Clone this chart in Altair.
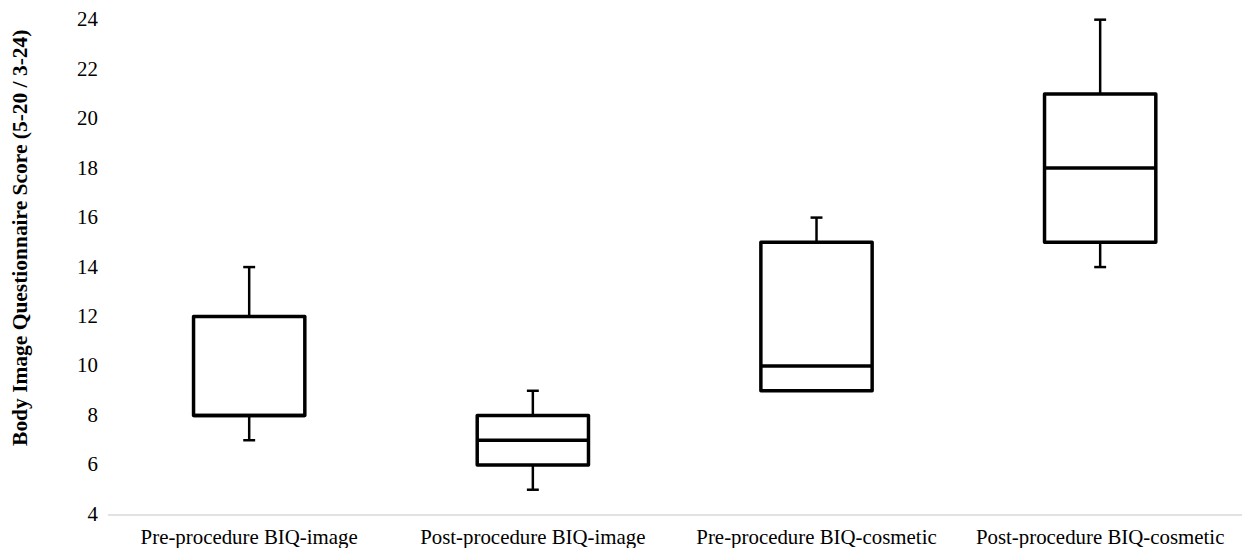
import altair as alt
import pandas as pd

categories = ["Pre-procedure BIQ-image", "Post-procedure BIQ-image",
              "Pre-procedure BIQ-cosmetic", "Post-procedure BIQ-cosmetic"]
mins = [7, 5, 9, 14]
q1s = [8, 6, 9, 15]
medians = [8, 7, 10, 18]
q3s = [12, 8, 15, 21]
maxs = [14, 9, 16, 24]
y_ticks = [4, 6, 8, 10, 12, 14, 16, 18, 20, 22, 24]

df = pd.DataFrame({"cat": categories, "lo": mins, "q1": q1s, "med": medians,
                   "q3": q3s, "hi": maxs})

FONT = "Liberation Serif"

x_axis = alt.Axis(labelAngle=0, labelPadding=12, labelLimit=0, grid=False,
                  domain=True, domainColor="#d9d9d9", domainWidth=1.5)
x = alt.X("cat:N", sort=categories, title=None,
          scale=alt.Scale(paddingInner=0, paddingOuter=0), axis=x_axis)
yscale = alt.Scale(domain=[4, 24], nice=False, zero=False)
y_axis = alt.Axis(values=y_ticks, labelPadding=10, domain=False, grid=False,
                  title="Body Image Questionnaire Score (5-20 / 3-24)",
                  titleFontWeight="bold", titleFontSize=21.6, titleX=-81, titleY=219,
                  titleBaseline="alphabetic", titleAngle=270)


def Y(field):
    return alt.Y(field, scale=yscale, axis=y_axis)


base = alt.Chart(df)

lower = base.mark_rule(color="black", strokeWidth=2.5).encode(
    x=x, y=Y("lo:Q"), y2="q1:Q")
upper = base.mark_rule(color="black", strokeWidth=2.5).encode(
    x=x, y=Y("q3:Q"), y2="hi:Q")
cap_lo = base.mark_tick(color="black", size=12, thickness=2.5, opacity=1).encode(
    x=x, y=Y("lo:Q"))
cap_hi = base.mark_tick(color="black", size=12, thickness=2.5, opacity=1).encode(
    x=x, y=Y("hi:Q"))
box = base.mark_bar(fill="white", stroke="black", strokeWidth=3.5,
                    strokeJoin="round", size=112, opacity=1).encode(
    x=x, y=Y("q1:Q"), y2="q3:Q")
med = base.mark_tick(color="black", size=112, thickness=3.5, opacity=1).encode(
    x=x, y=Y("med:Q"))

chart = alt.layer(lower, upper, cap_lo, cap_hi, box, med).properties(
    width=1142, height=498,
    autosize=alt.AutoSizeParams(type="none"),
    padding={"left": 100, "top": 10, "right": 0, "bottom": 32},
    view=alt.ViewConfig(stroke="transparent", strokeWidth=0),
    background="white",
).configure_axis(
    ticks=False, tickSize=0, grid=False,
    labelFont=FONT, labelFontSize=21, labelColor="black",
    titleFont=FONT, titleFontSize=21.6, titleColor="black",
)

chart.save("out.html", embed_options={"renderer": "svg", "actions": False})
